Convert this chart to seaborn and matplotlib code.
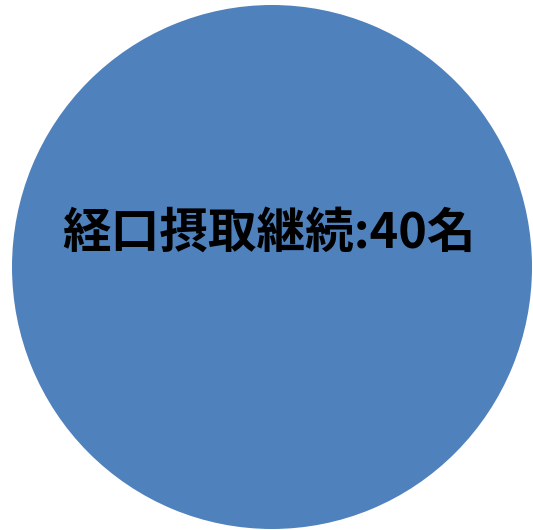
import matplotlib
matplotlib.use("Agg")
import matplotlib.pyplot as plt
import seaborn as sns

categories = ["経口摂取継続"]
counts = [40]
unit = "名"

sns.set_theme(style="white")
plt.rcParams["font.family"] = ["Noto Sans CJK JP", "DejaVu Sans"]

W, H = 533, 530
fig = plt.figure(figsize=(W / 100, H / 100), dpi=100)
fig.patch.set_facecolor("white")

# circle spans x 12..532, y 5..529 (pixels)
ax = fig.add_axes([12 / W, 1 - 529 / H, 520 / W, 524 / H])
ax.pie(counts, colors=["#4F81BD"], startangle=90, radius=1.0,
       wedgeprops=dict(linewidth=0))
ax.set_aspect("auto")
ax.set_xlim(-1, 1)
ax.set_ylim(-1, 1)
ax.axis("off")

ax.text(-0.01, 0.13, f"{categories[0]}:{counts[0]}{unit}",
        ha="center", va="center", fontsize=35, fontweight="bold", color="black")

fig.savefig("out.png", dpi=100, facecolor="white")
